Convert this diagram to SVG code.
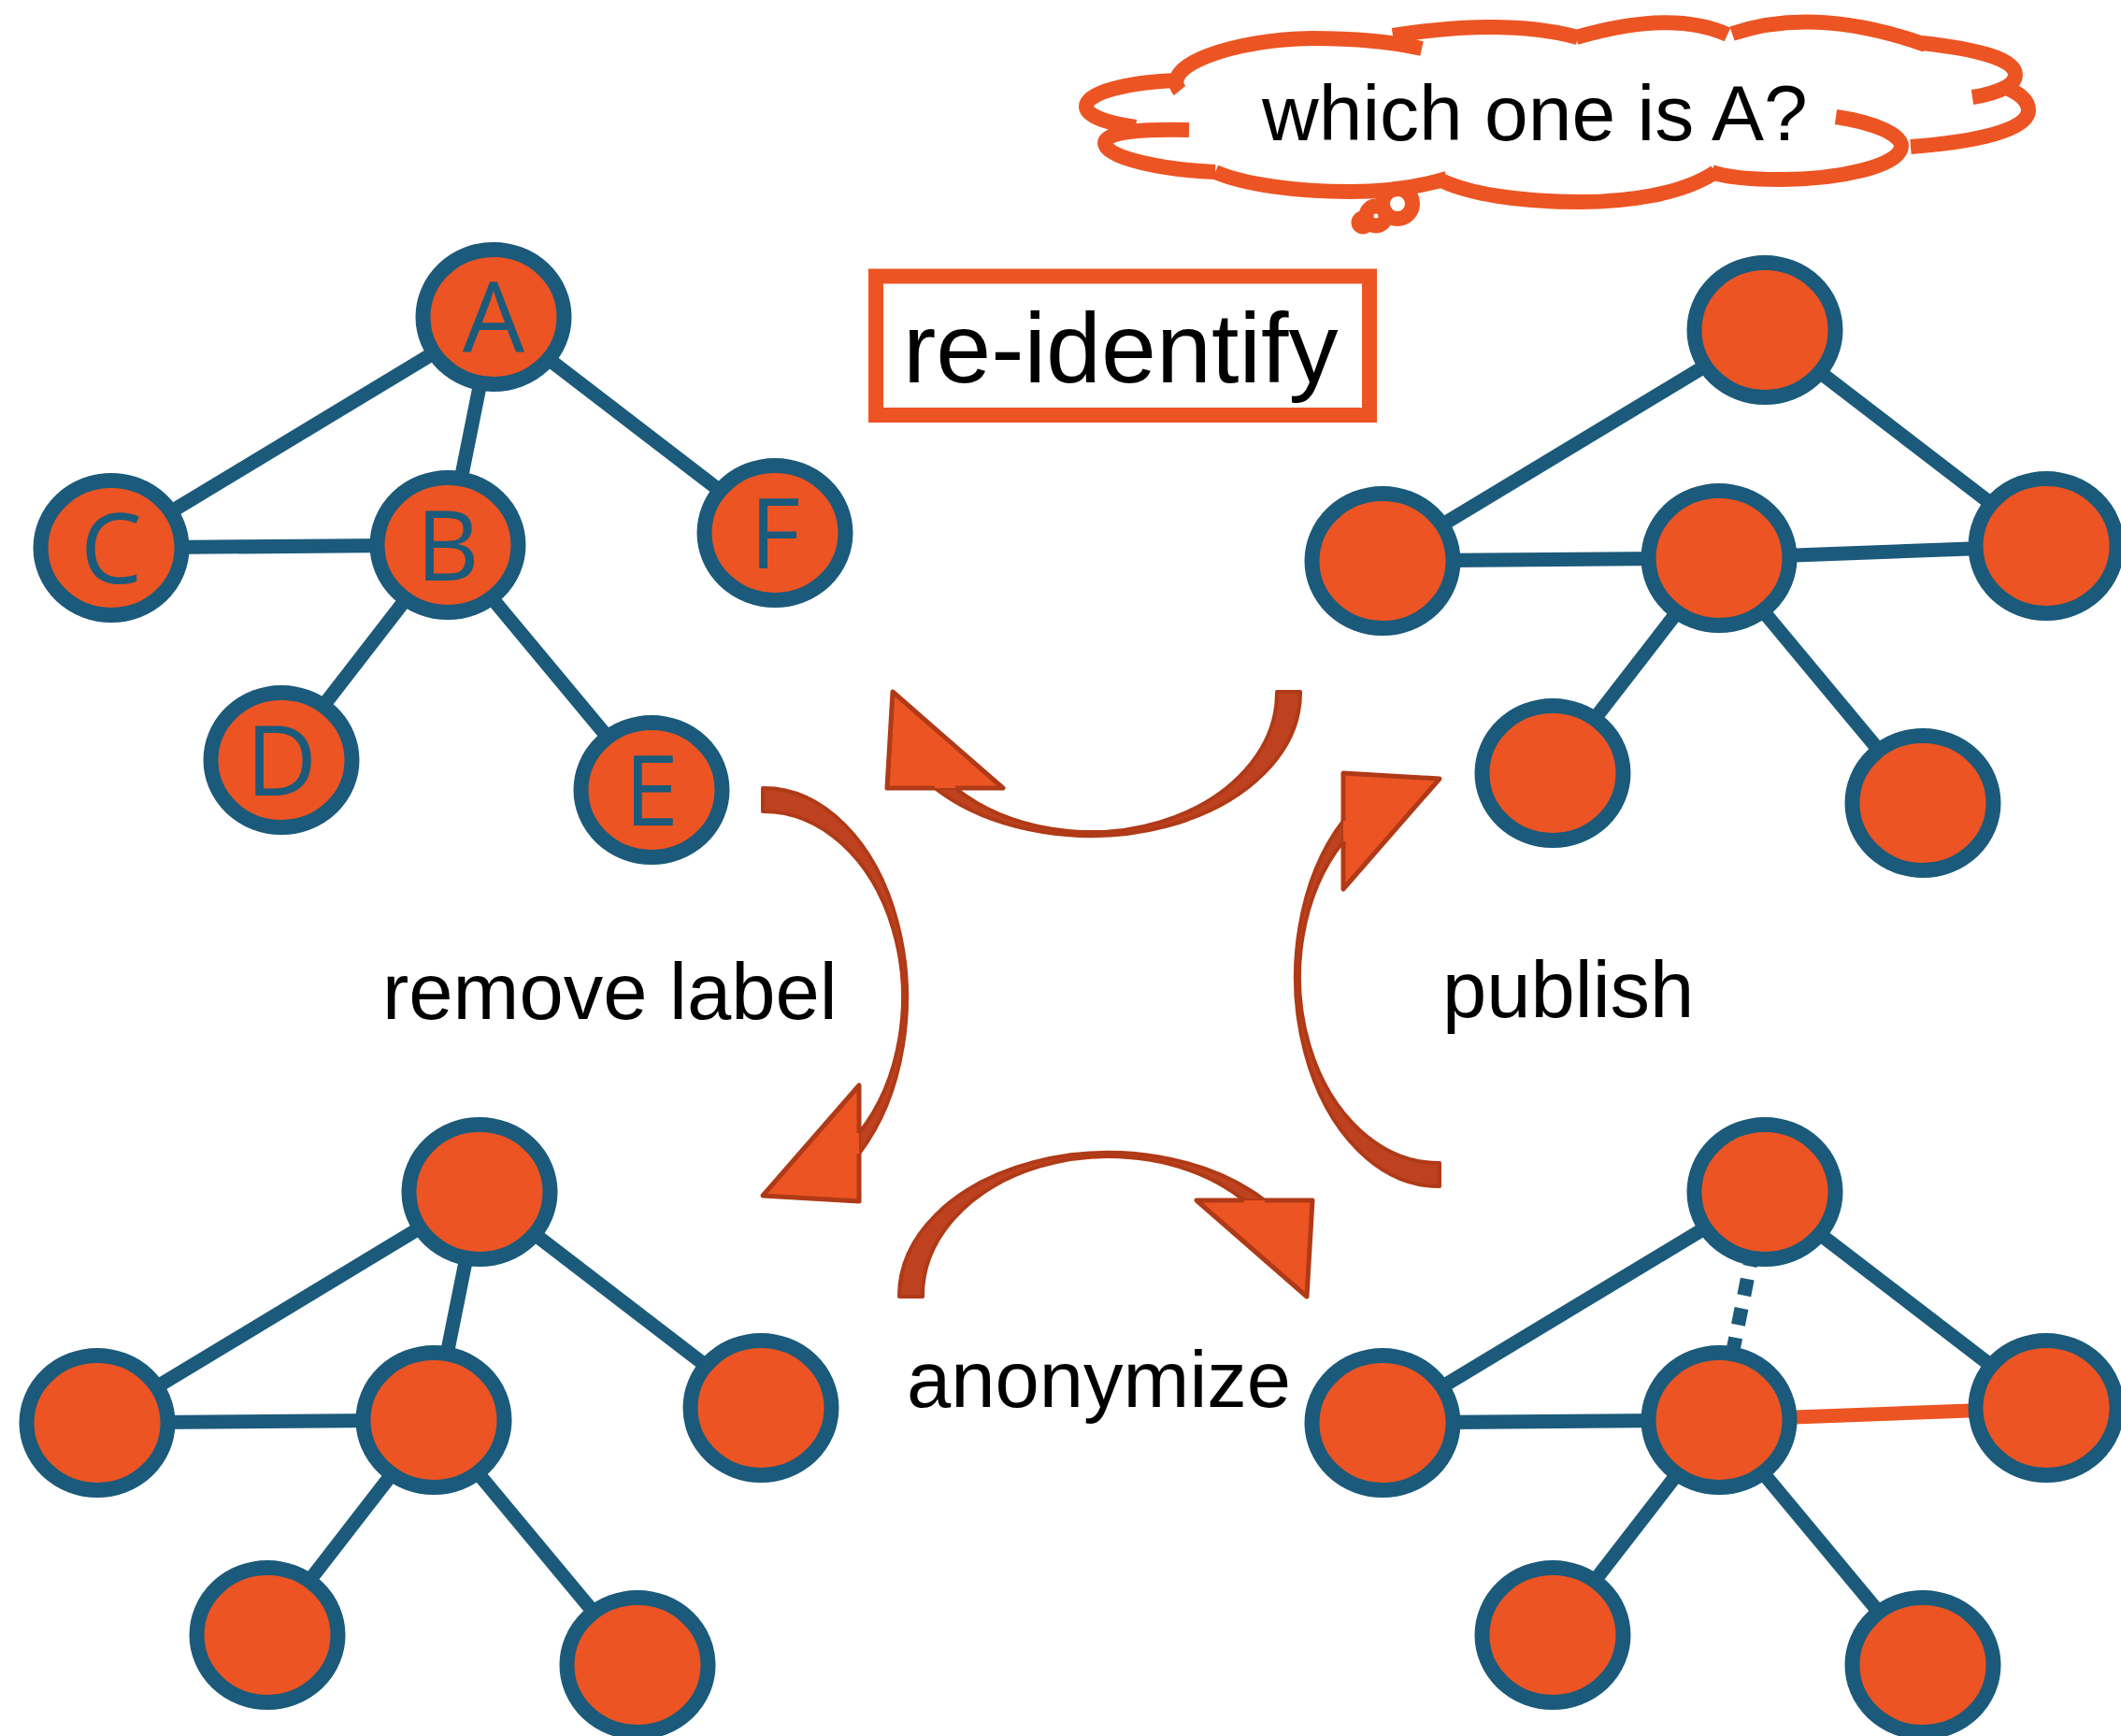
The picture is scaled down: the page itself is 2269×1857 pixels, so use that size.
<svg xmlns="http://www.w3.org/2000/svg" xmlns:xlink="http://www.w3.org/1999/xlink" width="2269" height="1857" viewBox="0 0 2269 1857">
<style>
.edge{stroke:#1B5A7A;stroke-width:15;fill:none}
.edge-o{stroke:#EC5423;stroke-width:15;fill:none}
.dash{stroke:#1B5A7A;stroke-width:15;fill:none;stroke-dasharray:18 14;stroke-dashoffset:1}
.node{fill:#EC5423;stroke:#1B5A7A;stroke-width:16}
.nl{font-family:"Open Sans","Noto Sans",sans-serif;font-size:105px;fill:#1B5A7A;text-anchor:middle}
.lbl{font-family:"Liberation Sans",Arial,sans-serif;font-size:85px;fill:#000}
.band{fill:#BE4220;stroke:#B03A17;stroke-width:4;stroke-linejoin:round}
.head{fill:#EC5423;stroke:#B03A17;stroke-width:5;stroke-linejoin:round}
.cloud{fill:none;stroke:#EC5423;stroke-width:16}
</style>
<defs>
<g id="curvedArrow">
<path class="band" d="M 224,0 A 224 153 0 0 1 -167,103 L -145,103 A 199 149 0 0 0 199,0 Z"/>
<path class="head" d="M -167,103 L -218,103 L -212,0 L -94,103 L -145,103"/>
</g>
</defs>
<rect width="2269" height="1857" fill="#fff"/>

<g id="cloud">
<path class="cloud" d="M 1272,139 C 1220,138 1182,141 1182,153 C 1182,170 1250,182 1300,184
M 1215,136 C 1185,132 1162,124 1162,114 C 1162,98 1210,88 1256,86
M 1262,97 C 1240,70 1320,42 1404,41 C 1450,41 1490,45 1521,52
M 1490,38 Q 1611,19 1688,40
M 1686,40 Q 1789,10 1848,37
M 1853,36 Q 1942,6 2060,48
M 2056,46 C 2110,52 2156,62 2156,80 C 2156,92 2135,100 2110,104
M 2142,92 C 2162,100 2170,108 2170,118 C 2170,140 2110,152 2044,157
M 1964,125 C 2005,131 2034,144 2034,156 C 2034,178 1965,192 1905,192 C 1870,192 1845,189 1831,184
M 1835,184 C 1800,208 1740,216 1690,216 C 1620,216 1570,206 1544,194
M 1548,191 C 1515,201 1480,205 1445,205 C 1385,205 1330,197 1300,184"/>
<circle cx="1495" cy="218" r="16" fill="none" stroke="#EC5423" stroke-width="16"/>
<circle cx="1472" cy="231" r="10.5" fill="none" stroke="#EC5423" stroke-width="16"/>
<circle cx="1458" cy="238" r="12.5" fill="#EC5423"/>
<text class="lbl" x="1350" y="150" style="font-size:84px">which one is A?</text>
</g>

<g id="reidentify">
<rect x="937" y="295.5" width="528" height="148.5" fill="#fff" stroke="#EC5423" stroke-width="16"/>
<text class="lbl" x="966" y="409" style="font-size:106px">re-identify</text>
</g>

<g id="labels">
<text class="lbl" x="409" y="1090">remove label</text>
<text class="lbl" x="1543" y="1088">publish</text>
<text class="lbl" x="970" y="1505">anonymize</text>
</g>

<g id="connectors">
<!-- top-left graph -->
<line class="edge" x1="528" y1="339" x2="119" y2="586"/>
<line class="edge" x1="528" y1="339" x2="479" y2="583"/>
<line class="edge" x1="528" y1="339" x2="829" y2="570"/>
<line class="edge" x1="119" y1="586" x2="479" y2="583"/>
<line class="edge" x1="479" y1="583" x2="301" y2="813"/>
<line class="edge" x1="479" y1="583" x2="697" y2="845"/>
<!-- top-right graph -->
<line class="edge" x1="1888" y1="353" x2="1479" y2="600"/>
<line class="edge" x1="1888" y1="353" x2="2189" y2="584"/>
<line class="edge" x1="1479" y1="600" x2="1839" y2="597"/>
<line class="edge" x1="1839" y1="597" x2="2189" y2="584"/>
<line class="edge" x1="1839" y1="597" x2="1661" y2="827"/>
<line class="edge" x1="1839" y1="597" x2="2057" y2="859"/>
<!-- bottom-left graph -->
<line class="edge" x1="513" y1="1275" x2="104" y2="1522"/>
<line class="edge" x1="513" y1="1275" x2="464" y2="1519"/>
<line class="edge" x1="513" y1="1275" x2="814" y2="1506"/>
<line class="edge" x1="104" y1="1522" x2="464" y2="1519"/>
<line class="edge" x1="464" y1="1519" x2="286" y2="1749"/>
<line class="edge" x1="464" y1="1519" x2="682" y2="1781"/>
<!-- bottom-right graph -->
<line class="edge" x1="1888" y1="1275" x2="1479" y2="1522"/>
<line class="dash" x1="1888" y1="1275" x2="1839" y2="1519"/>
<line class="edge" x1="1888" y1="1275" x2="2189" y2="1506"/>
<line class="edge" x1="1479" y1="1522" x2="1839" y2="1519"/>
<line class="edge-o" x1="1839" y1="1519" x2="2189" y2="1506"/>
<line class="edge" x1="1839" y1="1519" x2="1661" y2="1749"/>
<line class="edge" x1="1839" y1="1519" x2="2057" y2="1781"/>
<!-- process arrows -->
<use xlink:href="#curvedArrow" transform="translate(1167,740)"/>
<use xlink:href="#curvedArrow" transform="translate(816,1067) rotate(-90)"/>
<use xlink:href="#curvedArrow" transform="translate(1186,1387) rotate(180)"/>
<use xlink:href="#curvedArrow" transform="translate(1540,1045) rotate(90)"/>
</g>

<!-- top-left nodes -->
<g id="tl-A"><ellipse class="node" cx="528" cy="339" rx="75.5" ry="72"/><text class="nl" x="528" y="377">A</text></g>
<g id="tl-C"><ellipse class="node" cx="119" cy="586" rx="75.5" ry="72"/><text class="nl" x="119" y="624">C</text></g>
<g id="tl-B"><ellipse class="node" cx="479" cy="583" rx="75.5" ry="72"/><text class="nl" x="479" y="621">B</text></g>
<g id="tl-F"><ellipse class="node" cx="829" cy="570" rx="75.5" ry="72"/><text class="nl" x="829" y="608">F</text></g>
<g id="tl-D"><ellipse class="node" cx="301" cy="813" rx="75.5" ry="72"/><text class="nl" x="301" y="851">D</text></g>
<g id="tl-E"><ellipse class="node" cx="697" cy="845" rx="75.5" ry="72"/><text class="nl" x="697" y="883">E</text></g>
<!-- top-right nodes -->
<g id="tr-1"><ellipse class="node" cx="1888" cy="353" rx="75.5" ry="72"/></g>
<g id="tr-2"><ellipse class="node" cx="1479" cy="600" rx="75.5" ry="72"/></g>
<g id="tr-3"><ellipse class="node" cx="1839" cy="597" rx="75.5" ry="72"/></g>
<g id="tr-4"><ellipse class="node" cx="2189" cy="584" rx="75.5" ry="72"/></g>
<g id="tr-5"><ellipse class="node" cx="1661" cy="827" rx="75.5" ry="72"/></g>
<g id="tr-6"><ellipse class="node" cx="2057" cy="859" rx="75.5" ry="72"/></g>
<!-- bottom-left nodes -->
<g id="bl-1"><ellipse class="node" cx="513" cy="1275" rx="75.5" ry="72"/></g>
<g id="bl-2"><ellipse class="node" cx="104" cy="1522" rx="75.5" ry="72"/></g>
<g id="bl-3"><ellipse class="node" cx="464" cy="1519" rx="75.5" ry="72"/></g>
<g id="bl-4"><ellipse class="node" cx="814" cy="1506" rx="75.5" ry="72"/></g>
<g id="bl-5"><ellipse class="node" cx="286" cy="1749" rx="75.5" ry="72"/></g>
<g id="bl-6"><ellipse class="node" cx="682" cy="1781" rx="75.5" ry="72"/></g>
<!-- bottom-right nodes -->
<g id="br-1"><ellipse class="node" cx="1888" cy="1275" rx="75.5" ry="72"/></g>
<g id="br-2"><ellipse class="node" cx="1479" cy="1522" rx="75.5" ry="72"/></g>
<g id="br-3"><ellipse class="node" cx="1839" cy="1519" rx="75.5" ry="72"/></g>
<g id="br-4"><ellipse class="node" cx="2189" cy="1506" rx="75.5" ry="72"/></g>
<g id="br-5"><ellipse class="node" cx="1661" cy="1749" rx="75.5" ry="72"/></g>
<g id="br-6"><ellipse class="node" cx="2057" cy="1781" rx="75.5" ry="72"/></g>
</svg>
